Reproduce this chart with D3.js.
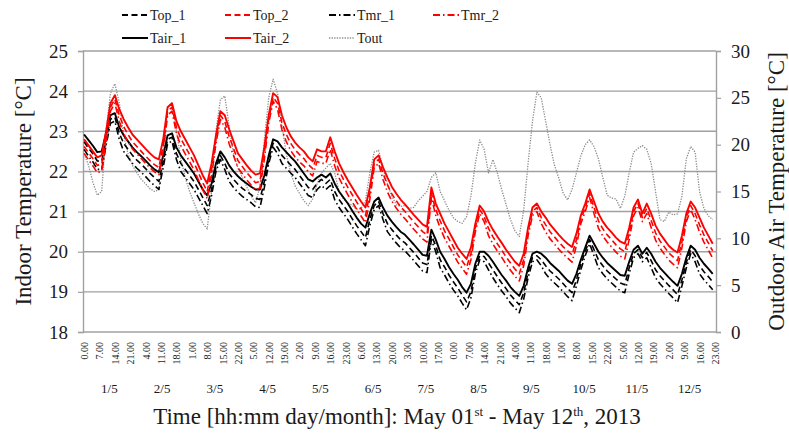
<!DOCTYPE html>
<html><head><meta charset="utf-8">
<script src="https://cdn.jsdelivr.net/npm/d3@7"></script>
<style>
body{margin:0;background:#fff}
svg{display:block}
text{font-family:"Liberation Serif","Times New Roman",serif;fill:#1a1a1a}
</style>
</head><body>
<svg id="chart" width="789" height="437"></svg>
<script>
// time stamps: every 2 hours from 01/05 0:00 to 12/05 22:00
const hours = d3.range(0, 288, 2);

const Tair_1 = [22.92,22.78,22.64,22.48,22.5,22.95,23.4,23.45,23.1,22.9,22.75,22.6,
22.48,22.38,22.27,22.15,22.05,21.98,22.4,22.9,22.95,22.6,22.4,22.25,
22.1,21.95,21.75,21.55,21.4,21.7,22.2,22.5,22.35,22.15,22.0,21.88,
21.78,21.7,21.62,21.55,21.55,21.9,22.4,22.8,22.75,22.6,22.48,22.36,
22.25,22.1,21.95,21.8,21.75,21.85,21.92,21.85,21.95,21.7,21.5,21.35,
21.2,21.02,20.85,20.7,20.6,20.95,21.25,21.35,21.1,20.9,20.75,20.62,
20.5,20.42,20.3,20.18,20.05,19.92,19.9,20.55,20.3,20.0,19.82,19.62,
19.45,19.3,19.12,18.98,19.2,19.7,20.0,20.0,19.9,19.75,19.58,19.42,
19.28,19.12,19.0,18.9,19.15,19.6,19.95,20.0,19.95,19.85,19.72,19.62,
19.52,19.4,19.28,19.2,19.45,19.8,20.1,20.4,20.2,20.0,19.85,19.72,
19.62,19.52,19.42,19.4,19.75,20.05,20.15,19.95,20.1,19.95,19.75,19.6,
19.48,19.36,19.25,19.15,19.45,19.85,20.15,20.05,19.85,19.7,19.58,19.45];

const Top_1 = [22.74,22.58,22.44,22.26,22.25,22.8,23.3,23.35,22.95,22.7,22.55,22.4,
22.28,22.18,22.07,21.95,21.85,21.75,22.25,22.8,22.85,22.45,22.2,22.05,
21.9,21.75,21.55,21.35,21.15,21.55,22.1,22.4,22.2,21.95,21.8,21.68,
21.58,21.5,21.42,21.33,21.3,21.75,22.3,22.7,22.6,22.4,22.28,22.16,
22.05,21.9,21.75,21.6,21.55,21.7,21.8,21.7,21.8,21.5,21.3,21.15,
21.0,20.82,20.65,20.5,20.35,20.8,21.15,21.25,20.95,20.7,20.55,20.42,
20.3,20.22,20.1,19.98,19.85,19.72,19.68,20.4,20.15,19.8,19.62,19.42,
19.25,19.1,18.92,18.75,19.0,19.58,19.9,19.88,19.72,19.55,19.38,19.22,
19.08,18.92,18.8,18.68,18.98,19.48,19.85,19.9,19.8,19.65,19.52,19.42,
19.32,19.2,19.08,18.98,19.3,19.68,20.0,20.3,20.05,19.8,19.65,19.52,
19.42,19.32,19.22,19.18,19.6,19.95,20.05,19.85,19.98,19.78,19.55,19.4,
19.28,19.16,19.05,18.93,19.3,19.73,20.05,19.9,19.65,19.5,19.38,19.25];

const Tmr_1 = [22.55,22.38,22.24,22.05,22.05,22.65,23.2,23.25,22.8,22.5,22.35,22.2,
22.08,21.98,21.87,21.75,21.65,21.55,22.1,22.7,22.75,22.3,22.0,21.85,
21.7,21.55,21.35,21.15,20.95,21.4,22.0,22.3,22.05,21.75,21.6,21.48,
21.38,21.3,21.22,21.12,21.1,21.6,22.2,22.6,22.45,22.2,22.08,21.96,
21.85,21.7,21.55,21.4,21.35,21.55,21.65,21.55,21.65,21.3,21.1,20.95,
20.8,20.62,20.45,20.3,20.15,20.65,21.05,21.15,20.8,20.5,20.35,20.22,
20.1,20.02,19.9,19.78,19.65,19.52,19.48,20.3,20.0,19.6,19.42,19.22,
19.05,18.9,18.72,18.55,18.85,19.45,19.8,19.75,19.55,19.35,19.18,19.02,
18.88,18.72,18.6,18.48,18.82,19.35,19.75,19.8,19.65,19.45,19.32,19.22,
19.12,19.0,18.88,18.78,19.15,19.55,19.9,20.2,19.9,19.6,19.45,19.32,
19.22,19.12,19.02,18.98,19.45,19.85,19.95,19.75,19.85,19.6,19.35,19.2,
19.08,18.96,18.85,18.73,19.15,19.6,19.95,19.75,19.45,19.3,19.18,19.05];

const Tair_2 = [22.8,22.65,22.5,22.35,22.4,23.0,23.7,23.9,23.55,23.3,23.1,22.92,
22.8,22.68,22.56,22.45,22.35,22.3,22.8,23.6,23.7,23.25,23.0,22.8,
22.6,22.4,22.15,21.9,21.7,22.2,22.9,23.5,23.4,23.05,22.75,22.45,
22.3,22.15,22.02,21.92,21.95,22.6,23.4,23.95,23.85,23.4,23.1,22.88,
22.72,22.6,22.5,22.35,22.25,22.55,22.5,22.5,22.85,22.5,22.2,21.98,
21.78,21.6,21.42,21.25,21.1,21.6,22.3,22.4,22.1,21.85,21.62,21.45,
21.3,21.18,21.05,20.92,20.8,20.68,20.62,21.6,21.2,20.95,20.7,20.5,
20.3,20.1,19.95,19.82,20.1,20.7,21.15,21.0,20.75,20.55,20.38,20.22,
20.05,19.9,19.75,19.65,19.95,20.6,21.1,21.2,21.0,20.85,20.68,20.55,
20.42,20.3,20.2,20.12,20.45,20.9,21.2,21.55,21.25,20.95,20.75,20.6,
20.48,20.35,20.25,20.2,20.6,21.1,21.3,20.95,21.2,20.95,20.65,20.45,
20.3,20.15,20.05,19.98,20.4,20.95,21.25,21.1,20.85,20.6,20.4,20.2];

const Top_2 = [22.62,22.47,22.32,22.15,22.18,22.85,23.6,23.8,23.4,23.12,22.92,22.74,
22.62,22.5,22.38,22.27,22.17,22.1,22.65,23.5,23.6,23.1,22.82,22.62,
22.42,22.22,21.97,21.72,21.5,22.05,22.8,23.4,23.25,22.87,22.57,22.27,
22.12,21.97,21.84,21.72,21.75,22.45,23.3,23.85,23.7,23.22,22.92,22.7,
22.54,22.42,22.32,22.17,22.07,22.4,22.35,22.35,22.7,22.32,22.02,21.8,
21.6,21.42,21.24,21.07,20.9,21.45,22.2,22.3,21.95,21.67,21.44,21.27,
21.12,21.0,20.87,20.74,20.62,20.5,20.42,21.45,21.05,20.77,20.52,20.32,
20.12,19.92,19.77,19.62,19.95,20.6,21.05,20.88,20.58,20.37,20.2,20.04,
19.87,19.72,19.57,19.45,19.8,20.5,21.0,21.1,20.85,20.67,20.5,20.37,
20.24,20.12,20.02,19.92,20.3,20.8,21.1,21.45,21.1,20.77,20.57,20.42,
20.3,20.17,20.07,20.0,20.45,21.0,21.2,20.85,21.08,20.78,20.47,20.27,
20.12,19.97,19.87,19.78,20.25,20.85,21.15,20.95,20.67,20.42,20.22,20.02];

const Tmr_2 = [22.45,22.29,22.14,21.97,22.0,22.7,23.5,23.7,23.25,22.94,22.74,22.56,
22.44,22.32,22.2,22.09,21.99,21.92,22.5,23.4,23.5,22.95,22.64,22.44,
22.24,22.04,21.79,21.54,21.32,21.9,22.7,23.3,23.1,22.69,22.39,22.09,
21.94,21.79,21.66,21.54,21.58,22.3,23.2,23.75,23.55,23.04,22.74,22.52,
22.36,22.24,22.14,21.99,21.89,22.25,22.2,22.2,22.55,22.14,21.84,21.62,
21.42,21.24,21.06,20.89,20.72,21.3,22.1,22.2,21.8,21.49,21.26,21.09,
20.94,20.82,20.69,20.56,20.44,20.32,20.24,21.35,20.9,20.59,20.34,20.14,
19.94,19.74,19.59,19.44,19.8,20.5,20.95,20.75,20.4,20.19,20.02,19.86,
19.69,19.54,19.39,19.27,19.65,20.4,20.9,21.0,20.7,20.49,20.32,20.19,
20.06,19.94,19.84,19.74,20.15,20.7,21.0,21.35,20.95,20.59,20.39,20.24,
20.12,19.99,19.89,19.82,20.3,20.9,21.1,20.75,20.95,20.6,20.29,20.09,
19.94,19.79,19.69,19.6,20.1,20.75,21.05,20.8,20.49,20.24,20.04,19.84];

const Tout = [19.0,17.8,16.0,14.6,15.0,21.5,25.5,26.5,24.5,21.0,19.0,17.8,
17.0,16.3,15.8,15.3,15.0,15.2,18.5,24.0,24.5,21.5,18.5,16.5,
15.0,13.8,12.6,11.6,11.0,15.0,21.5,24.8,25.2,22.0,19.0,17.5,
16.5,15.5,14.5,13.8,15.5,20.5,25.0,27.0,25.5,22.0,19.0,17.0,
15.6,14.8,14.0,13.5,14.2,15.8,17.0,17.5,18.0,17.0,15.0,14.2,
13.8,13.5,13.1,13.2,14.0,17.0,19.2,19.4,17.5,15.8,14.5,13.6,
13.4,13.5,13.2,13.3,14.0,14.5,15.0,16.5,17.0,15.0,14.0,13.0,
12.2,11.8,11.6,12.3,14.5,18.0,20.5,19.5,17.0,18.4,17.0,15.2,
13.6,12.0,10.8,10.2,13.0,18.0,22.5,25.6,25.0,22.5,20.0,17.8,
16.4,14.8,14.1,15.2,17.0,18.8,20.0,20.5,19.8,18.5,16.5,14.6,
14.3,14.2,13.2,14.5,17.0,19.2,19.6,19.9,19.5,18.0,15.0,12.0,
11.8,12.8,12.5,12.6,14.5,18.5,19.8,19.2,15.0,13.2,12.4,12.0];

// x tick positions (hour index) and their labels
const hourTicks = d3.range(0, 288, 7);
const hourTickLabels = ["0.00","7.00","14.00","21.00","4.00","11.00","18.00","1.00","8.00","15.00","22.00",
"5.00","12.00","19.00","2.00","9.00","16.00","23.00","6.00","13.00","20.00","3.00","10.00","17.00",
"0.00","7.00","14.00","21.00","4.00","11.00","18.00","1.00","8.00","15.00","22.00","5.00","12.00",
"19.00","2.00","9.00","16.00","23.00"];
const dayLabels = ["1/5","2/5","3/5","4/5","5/5","6/5","7/5","8/5","9/5","10/5","11/5","12/5"];
const leftTicks = [18,19,20,21,22,23,24,25];
const rightTicks = [0,5,10,15,20,25,30];

const series = [
  {name:"Top_1", data:Top_1, color:"#000", dash:"6,3.5", w:1.6, axis:"L"},
  {name:"Top_2", data:Top_2, color:"#ff0000", dash:"6,3.5", w:1.6, axis:"L"},
  {name:"Tmr_1", data:Tmr_1, color:"#000", dash:"7,3,1.5,3", w:1.6, axis:"L"},
  {name:"Tmr_2", data:Tmr_2, color:"#ff0000", dash:"7,3,1.5,3", w:1.6, axis:"L"},
  {name:"Tair_1", data:Tair_1, color:"#000", dash:null, w:1.9, axis:"L"},
  {name:"Tair_2", data:Tair_2, color:"#ff0000", dash:null, w:1.9, axis:"L"},
  {name:"Tout", data:Tout, color:"#8c8c8c", dash:"1.3,1.3", w:1.3, axis:"R"}
];

const svg = d3.select("#chart");
const L = 83, R = 716, T = 51, B = 332;
const x = d3.scaleLinear().domain([-0.5, 287.5]).range([L, R]);
const y = d3.scaleLinear().domain([18, 25]).range([B, T]);
const y2 = d3.scaleLinear().domain([0, 30]).range([B, T]);
const gridColor = "#a0a0a0";

// gridlines
svg.append("g").selectAll("line").data(leftTicks).join("line")
  .attr("x1", L).attr("x2", R).attr("y1", d => y(d)).attr("y2", d => y(d))
  .attr("stroke", gridColor).attr("stroke-width", 1.4);

// left axis
const gl = svg.append("g").attr("transform", `translate(${L},0)`)
  .call(d3.axisLeft(y).tickValues(leftTicks).tickSize(5).tickPadding(10).tickFormat(d3.format("d")));
gl.select(".domain").attr("stroke", gridColor).attr("stroke-width", 1.4);
gl.selectAll(".tick line").attr("stroke", gridColor).attr("stroke-width", 1.2);
gl.selectAll("text").style("font-size", "19px").style("font-family", '"Liberation Serif",serif').attr("fill", "#1a1a1a");

// right axis
const gr = svg.append("g").attr("transform", `translate(${R},0)`)
  .call(d3.axisRight(y2).tickValues(rightTicks).tickSize(5).tickPadding(10).tickFormat(d3.format("d")));
gr.select(".domain").attr("stroke", gridColor).attr("stroke-width", 1.4);
gr.selectAll(".tick line").attr("stroke", gridColor).attr("stroke-width", 1.2);
gr.selectAll("text").style("font-size", "19px").style("font-family", '"Liberation Serif",serif').attr("fill", "#1a1a1a");

// bottom axis (hour labels)
const gb = svg.append("g").attr("transform", `translate(0,${B})`)
  .call(d3.axisBottom(x).tickValues(hourTicks).tickSize(0).tickFormat((d, i) => hourTickLabels[i]));
gb.select(".domain").remove();
gb.selectAll("text")
  .attr("transform", "rotate(-90)")
  .attr("x", -10).attr("y", 0).attr("dy", "0.35em")
  .style("text-anchor", "end")
  .style("font-size", "10px").style("font-family", '"Liberation Serif",serif').attr("fill", "#1a1a1a");

// day labels
svg.append("g").selectAll("text").data(dayLabels).join("text")
  .attr("x", (d, i) => x(i * 24 + 11.5)).attr("y", 393)
  .attr("text-anchor", "middle").style("font-size", "13px").text(d => d);

// series
const drawOrder = ["Tout","Tmr_1","Top_1","Tair_1","Tmr_2","Top_2","Tair_2"];
drawOrder.forEach(n => {
  const s = series.find(v => v.name === n);
  const ys = s.axis === "R" ? y2 : y;
  const line = d3.line().x((d, i) => x(hours[i])).y(d => ys(d));
  svg.append("path").datum(s.data)
    .attr("d", line).attr("fill", "none")
    .attr("stroke", s.color).attr("stroke-width", s.w)
    .attr("stroke-dasharray", s.dash)
    .attr("stroke-linejoin", "round");
});

// legend
const legendPos = {
  Top_1:[122,15], Top_2:[225,15], Tmr_1:[329,15], Tmr_2:[433,15],
  Tair_1:[122,38], Tair_2:[225,38], Tout:[329,38]
};
series.forEach(s => {
  const [lx, ly] = legendPos[s.name];
  svg.append("line").attr("x1", lx).attr("x2", lx + 26).attr("y1", ly).attr("y2", ly)
    .attr("stroke", s.color).attr("stroke-width", s.name === "Tout" ? 1.3 : 2)
    .attr("stroke-dasharray", s.dash);
  svg.append("text").attr("x", lx + 28).attr("y", ly + 5)
    .style("font-size", "14px").text(s.name);
});

// axis titles
svg.append("text").attr("x", 397).attr("y", 424).attr("text-anchor", "middle")
  .style("font-size", "23px")
  .call(t => {
    t.append("tspan").text("Time [hh:mm day/month]: May 01");
    t.append("tspan").attr("dy", -8).style("font-size", "13px").text("st");
    t.append("tspan").attr("dy", 8).text(" - May 12");
    t.append("tspan").attr("dy", -8).style("font-size", "13px").text("th");
    t.append("tspan").attr("dy", 8).text(", 2013");
  });
svg.append("text").attr("transform", `translate(31,${(T + B) / 2}) rotate(-90)`)
  .attr("text-anchor", "middle").style("font-size", "23px").text("Indoor Temperature [°C]");
svg.append("text").attr("transform", `translate(784,${(T + B) / 2}) rotate(-90)`)
  .attr("text-anchor", "middle").style("font-size", "23px").text("Outdoor Air Temperature [°C]");
</script>
</body></html>
